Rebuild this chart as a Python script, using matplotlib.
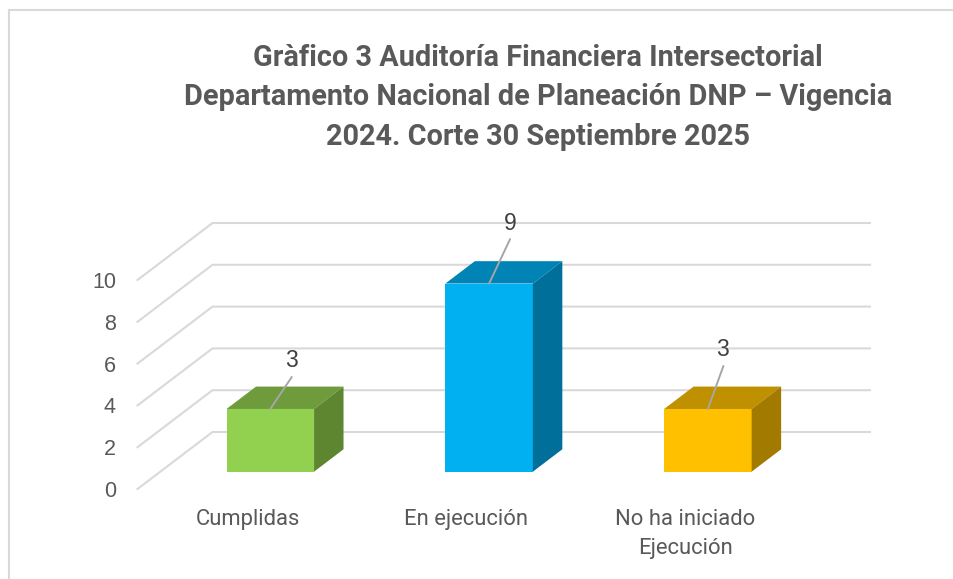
import matplotlib
matplotlib.use('Agg')
import matplotlib.pyplot as plt
from matplotlib.lines import Line2D
from matplotlib.patches import Polygon

# data
categories = ['Cumplidas', 'En ejecución', 'No ha iniciado\nEjecución']
values = [3, 9, 3]
front_colors = ['#92D050', '#00B0F0', '#FFC000']
top_colors = ['#6E9C3C', '#0084B5', '#BF9000']
side_colors = ['#5E8530', '#00709A', '#A37A00']
yticks = [0, 2, 4, 6, 8, 10]
title = 'Gràfico 3 Auditoría Financiera Intersectorial\nDepartamento Nacional de Planeación DNP – Vigencia\n2024. Corte 30 Septiembre 2025'

W, H = 954, 579
fig = plt.figure(figsize=(W / 100, H / 100), dpi=100)

# axes box = floor front edge up to the top of the back wall
ax = fig.add_axes([137.5 / W, (H - 489) / H, (870 - 137.5) / W, (489 - 223.5) / H])
px_x = 218.8
px_y = 20.9
x0 = -(247.5 - 137.5) / px_x
ax.set_xlim(x0, x0 + (870 - 137.5) / px_x)
ax.set_ylim(0, (489 - 223.5) / px_y)
for s in ax.spines.values():
    s.set_visible(False)

# fake 3d depth, in data units
depth_x = 75 / px_x
depth_y = 57 / px_y
bar_start = 0.304
bar_depth = 0.393
bar_w = 0.4

# walls
grid = '#D9D9D9'
right = ax.get_xlim()[1]
for t in yticks:
    ax.plot([x0, x0 + depth_x, right], [t, t + depth_y, t + depth_y],
            color=grid, lw=1.5, clip_on=False, zorder=1, solid_joinstyle='miter')

# bars
off_x = bar_start * depth_x
off_y = bar_start * depth_y
dx = bar_depth * depth_x
dy = bar_depth * depth_y
label_off = [(21, 48), (21, 60), (15, 59)]
line_off = [(21.5, 32), (21, 44.5), (15.5, 43)]
for i, v in enumerate(values):
    l = i - bar_w / 2 + off_x
    r = i + bar_w / 2 + off_x
    b = off_y
    t = off_y + v
    ax.bar(l, v, width=bar_w, bottom=b, align='edge', color=front_colors[i], zorder=3)
    ax.add_patch(Polygon([(l, t), (r, t), (r + dx, t + dy), (l + dx, t + dy)],
                         color=top_colors[i], lw=0, zorder=3))
    ax.add_patch(Polygon([(r, b), (r + dx, b + dy), (r + dx, t + dy), (r, t)],
                         color=side_colors[i], lw=0, zorder=3))
    cx = i + off_x
    ax.annotate('', xy=(cx, t), xytext=line_off[i], textcoords='offset pixels',
                arrowprops=dict(arrowstyle='-', color='#A6A6A6', lw=1.4, shrinkA=0, shrinkB=0),
                zorder=4)
    ax.annotate(str(v), xy=(cx, t), xytext=label_off[i], textcoords='offset pixels',
                ha='center', va='center', fontsize=16.5, color='#404040',
                family='Liberation Sans', zorder=5)

ax.set_yticks(yticks)
ax.set_yticklabels([str(t) for t in yticks], family='Liberation Sans', fontsize=15.5, color='#595959')
ax.set_xticks(range(len(categories)))
ax.set_xticklabels(categories, family='Roboto', fontsize=15.8, color='#595959', linespacing=1.47)
ax.tick_params(axis='y', length=0, pad=15.5)
ax.tick_params(axis='x', length=0, pad=14.6)

fig.text(538 / W, 1 - 97.5 / H, title, ha='center', va='center', family='Roboto',
         fontweight='bold', fontsize=20.8, color='#595959', linespacing=1.52)

# chart border, left and top only are in the crop
fig.add_artist(Line2D([9 / W, 9 / W], [0, 1 - 10 / H], color=grid, lw=1.5))
fig.add_artist(Line2D([9 / W, 1], [1 - 10 / H, 1 - 10 / H], color=grid, lw=1.5))

fig.savefig('out.png', dpi=100)
